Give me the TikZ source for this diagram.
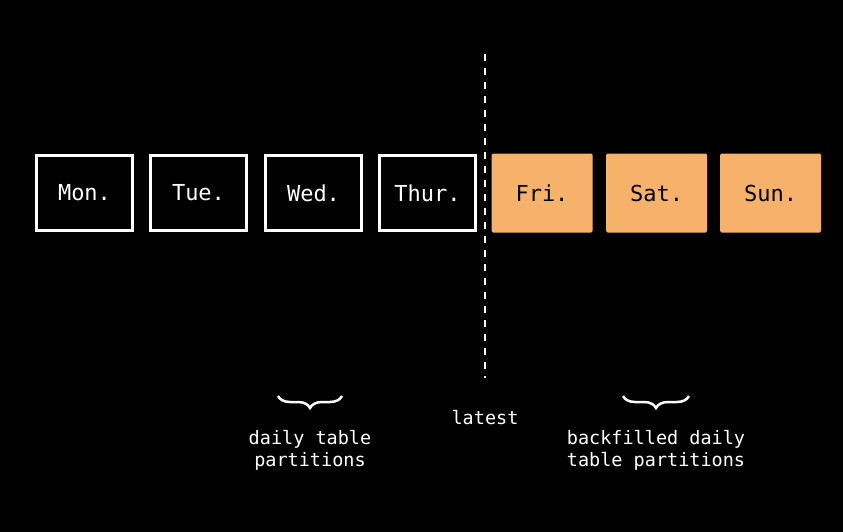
\documentclass[tikz,border=0pt]{standalone}
\usepackage{fontspec}
\setmonofont{DejaVu Sans Mono}
\usetikzlibrary{decorations.pathreplacing}
\definecolor{orangebox}{HTML}{F6B26B}
\begin{document}
\begin{tikzpicture}[x=1pt,y=-1pt,
  daybox/.style={draw=white, line width=3pt, minimum width=96pt, minimum height=75pt, inner sep=0pt, text=white, font=\ttfamily\fontsize{22}{26}\selectfont},
  fillbox/.style={fill=orangebox, rounded corners=1.5pt, minimum width=101pt, minimum height=79pt, inner sep=0pt, text=black, font=\ttfamily\fontsize{22}{26}\selectfont},
  lbl/.style={text=white, align=center, font=\ttfamily\fontsize{18.5}{22}\selectfont, inner sep=0pt},
  bracestyle/.style={draw=white, line width=2.5pt, decorate, decoration={brace, amplitude=12pt}}]
\fill[black] (0,0) rectangle (843,532);
\useasboundingbox (0,0) rectangle (843,532);
\node[daybox] (mon) at (84.5,193) {Mon.};
\node[daybox] (tue) at (198.5,193) {Tue.};
\node[daybox] (wed) at (313.5,193) {Wed.};
\node[daybox] (thu) at (427.5,193) {Thur.};
\node[fillbox] (fri) at (542,193) {Fri.};
\node[fillbox] (sat) at (656.5,193) {Sat.};
\node[fillbox] (sun) at (770.5,193) {Sun.};
\coordinate (ltop) at (485,54);
\coordinate (lbot) at (485,378);
\draw[white, line width=2pt, dash pattern=on 7pt off 7pt] (ltop) -- (lbot);
\coordinate (b1l) at (278,396);
\coordinate (b1r) at (342,396);
\coordinate (b2l) at (623,396);
\coordinate (b2r) at (689,396);
\draw[bracestyle] (b1r) -- (b1l);
\draw[bracestyle] (b2r) -- (b2l);
\node[lbl] (latest) at (485,418) {latest};
\node[lbl] (daily) at (310,450) {daily table\\partitions};
\node[lbl] (backf) at (656,450) {backfilled daily\\table partitions};
\end{tikzpicture}
\end{document}
